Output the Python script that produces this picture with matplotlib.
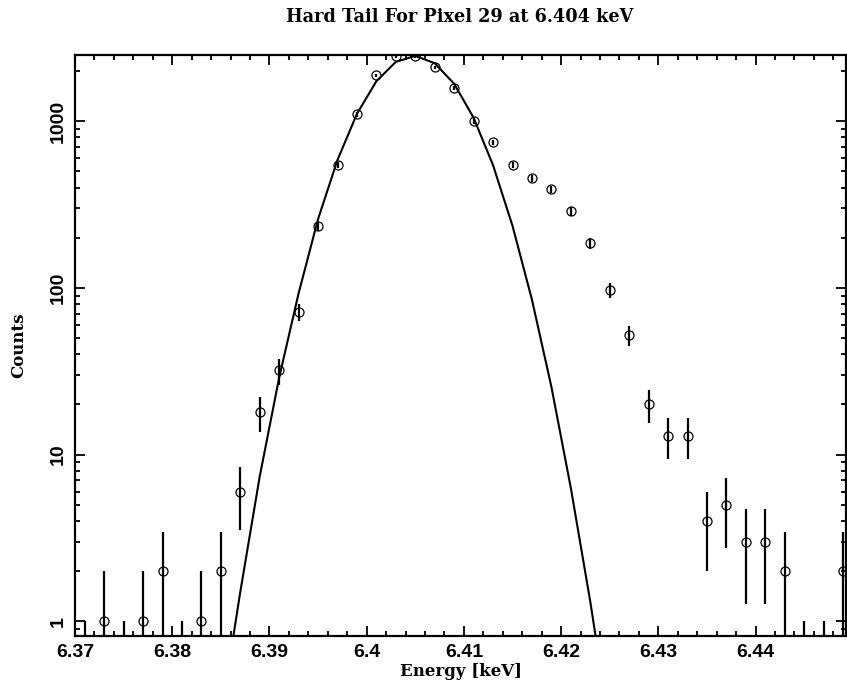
import numpy as np
import matplotlib
matplotlib.use("Agg")
import matplotlib.pyplot as plt
from matplotlib.ticker import FixedLocator, NullFormatter, LogLocator

# spectrum bins (keV) and counts
energy = [6.371, 6.373, 6.375, 6.377, 6.379, 6.381, 6.383, 6.385, 6.387, 6.389,
          6.391, 6.393, 6.395, 6.397, 6.399, 6.401, 6.403, 6.405, 6.407, 6.409,
          6.411, 6.413, 6.415, 6.417, 6.419, 6.421, 6.423, 6.425, 6.427, 6.429,
          6.431, 6.433, 6.435, 6.437, 6.439, 6.441, 6.443, 6.445, 6.447, 6.449]
counts = [0, 1, 0, 1, 2, 0, 1, 2, 6, 18,
          32, 72, 235, 545, 1100, 1890, 2450, 2460, 2110, 1580,
          1000, 750, 545, 455, 390, 288, 185, 97, 52, 20,
          13, 13, 4, 5, 3, 3, 2, 0, 0, 2]

# fitted line profile
model_energy = [6.383, 6.385, 6.387, 6.389, 6.391, 6.393, 6.395, 6.397, 6.399, 6.401,
                6.403, 6.405, 6.407, 6.409, 6.411, 6.413, 6.415, 6.417, 6.419, 6.421,
                6.423, 6.425, 6.427]
model_counts = [0.04, 0.27, 1.5, 7.4, 29, 93, 259, 587, 1109, 1741,
                2273, 2470, 2232, 1678, 1049, 545, 236, 85, 25.5, 6.3,
                1.31, 0.23, 0.033]

xticks = [6.37, 6.38, 6.39, 6.40, 6.41, 6.42, 6.43, 6.44]
xticklabels = ["6.37", "6.38", "6.39", "6.4", "6.41", "6.42", "6.43", "6.44"]
xminor = [6.372, 6.374, 6.376, 6.378, 6.382, 6.384, 6.386, 6.388, 6.392, 6.394,
          6.396, 6.398, 6.402, 6.404, 6.406, 6.408, 6.412, 6.414, 6.416, 6.418,
          6.422, 6.424, 6.426, 6.428, 6.432, 6.434, 6.436, 6.438, 6.442, 6.444,
          6.446, 6.448]
yticks = [1, 10, 100, 1000]
yticklabels = ["1", "10", "100", "1000"]

x = np.array(energy)
y = np.array(counts, dtype=float)
err = np.sqrt(np.maximum(y, 1))
lo = np.maximum(y - err, 1e-3)
hi = y + err

tick_font = {"family": "Liberation Sans", "weight": "bold", "size": 14}
label_font = {"family": "DejaVu Serif", "weight": "bold", "size": 12}
title_font = {"family": "DejaVu Serif", "weight": "bold", "size": 12.7}

fig = plt.figure(figsize=(8.47, 6.92), dpi=100)
ax = fig.add_axes([75/847, 56/692, 771/847, 581/692])

ax.vlines(x, lo, hi, color="black", lw=1.6)
m = y > 0
ax.plot(x[m], y[m], "o", mfc="none", mec="black", ms=6.5, mew=0.9)
ax.plot(model_energy, model_counts, "k-", lw=1.5)

ax.set_yscale("log")
ax.set_xlim(6.37, 6.4493)
ax.set_ylim(0.816, 2500)

ax.xaxis.set_major_locator(FixedLocator(xticks))
ax.xaxis.set_minor_locator(FixedLocator(xminor))
ax.yaxis.set_major_locator(FixedLocator(yticks))
ax.yaxis.set_minor_locator(LogLocator(base=10, subs=np.arange(2, 10)))
ax.yaxis.set_minor_formatter(NullFormatter())
ax.set_xticklabels(xticklabels, fontdict=tick_font)
ax.set_yticklabels(yticklabels, fontdict=tick_font, rotation=90, va="center")

ax.tick_params(which="both", direction="in", top=True, right=True, width=1.3)
ax.tick_params(which="major", length=7.5, pad=6)
ax.tick_params(which="minor", length=3.8)
for s in ax.spines.values():
    s.set_linewidth(1.6)

ax.set_xlabel("Energy [keV]", fontdict=label_font, labelpad=1)
ax.set_ylabel("Counts", fontdict=label_font, labelpad=16)
fig.text(0.543, 0.975, "Hard Tail For Pixel 29 at 6.404 keV", ha="center", va="center", **title_font)

fig.savefig("out.png", dpi=100)
